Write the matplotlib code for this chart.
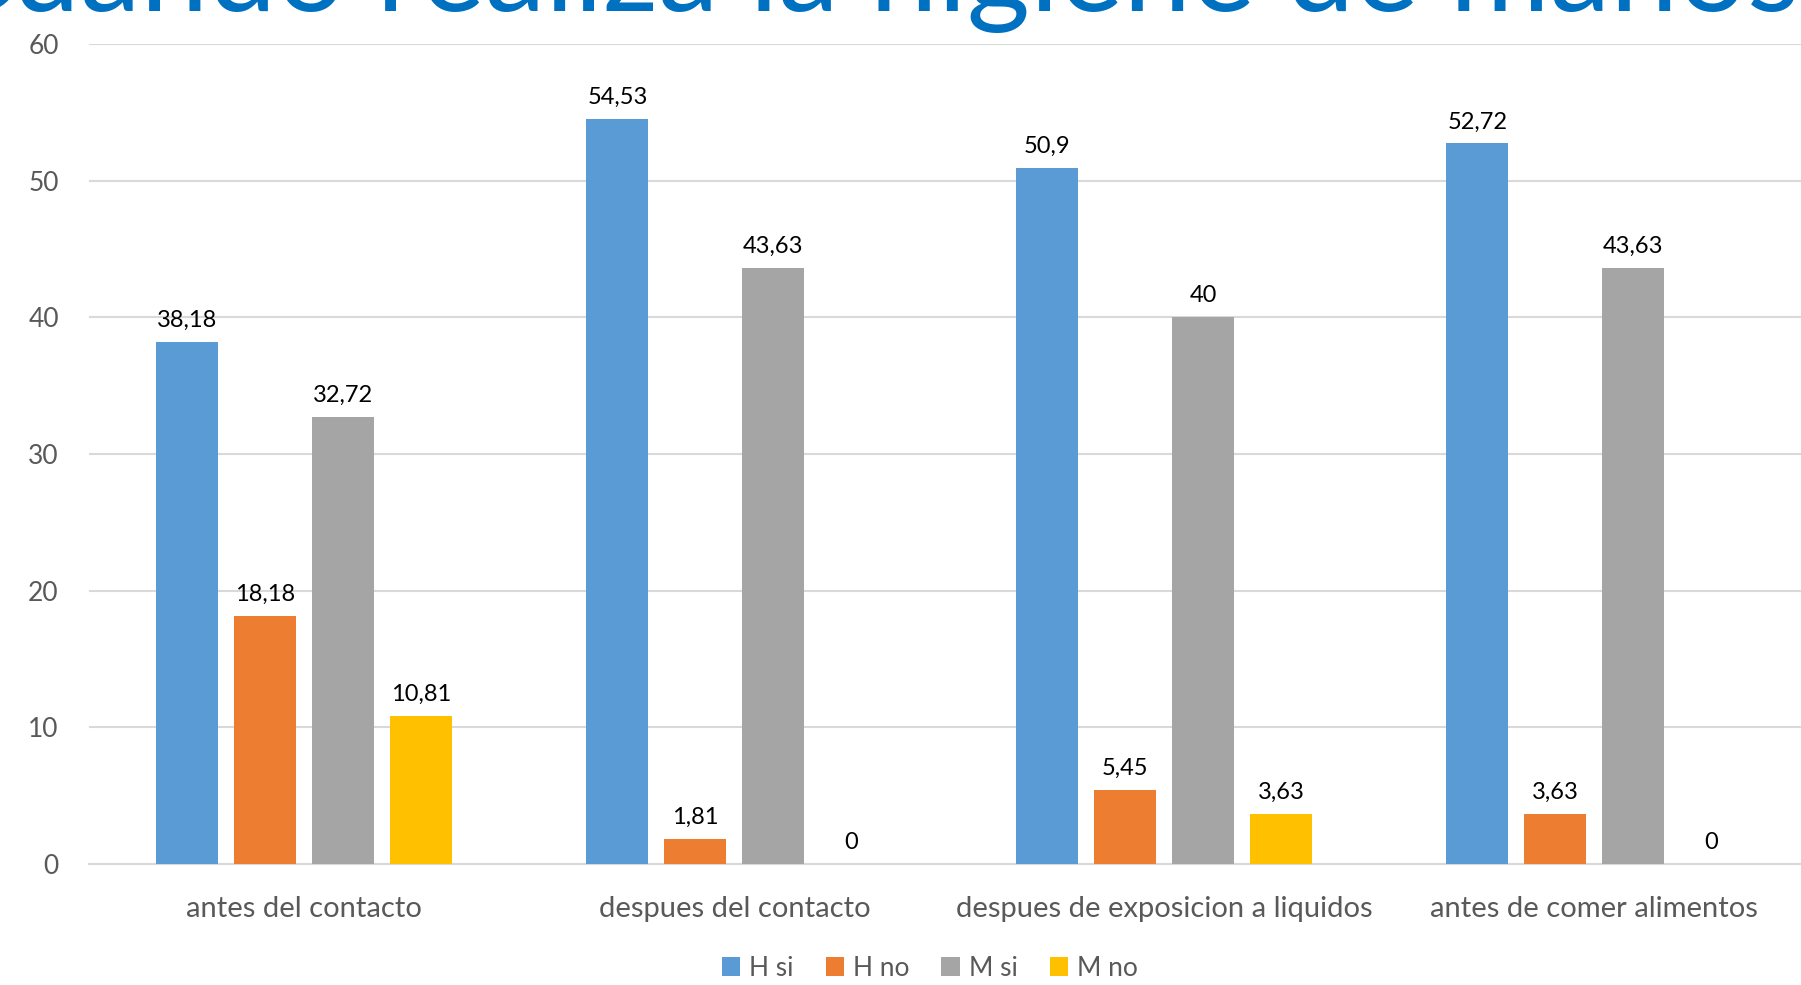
import matplotlib
matplotlib.use("Agg")
import matplotlib.pyplot as plt
import numpy as np

# datos
categorias = ["antes del contacto", "despues del contacto",
              "despues de exposicion a liquidos", "antes de comer alimentos"]
series = ["H si", "H no", "M si", "M no"]
h_si = [38.18, 54.53, 50.9, 52.72]
h_no = [18.18, 1.81, 5.45, 3.63]
m_si = [32.72, 43.63, 40, 43.63]
m_no = [10.81, 0, 3.63, 0]
etiquetas_y = [0, 10, 20, 30, 40, 50, 60]

colores = ["#5B9BD5", "#ED7D31", "#A5A5A5", "#FFC000"]
gris_texto = "#595959"

plt.rcParams["font.family"] = ["Lato", "DejaVu Sans"]

W, H = 1801, 985
fig = plt.figure(figsize=(W / 100, H / 100), dpi=100)
ax = fig.add_axes([89.4 / W, (H - 864) / H, 1720 / W, 820 / H])

x = np.arange(len(categorias))
ancho = 0.144
paso = 0.1814
valores = [h_si, h_no, m_si, m_no]
for i, (nombre, vals) in enumerate(zip(series, valores)):
    pos = x + (i - 1.5) * paso
    barras = ax.bar(pos, vals, width=ancho, color=colores[i], label=nombre, zorder=3)
    for b, v in zip(barras, vals):
        texto = f"{v:g}".replace(".", ",")
        ax.annotate(texto, (b.get_x() + b.get_width() / 2, v),
                    xytext=(0, 8), textcoords="offset points",
                    ha="center", va="bottom", fontsize=17, color="black")

ax.set_xlim(-0.5, len(categorias) - 0.5)
ax.set_ylim(0, 60)
ax.set_yticks(etiquetas_y)
ax.set_xticks(x)
ax.set_xticklabels(categorias)
ax.tick_params(axis="y", length=0, pad=22, labelsize=19, labelcolor=gris_texto)
ax.tick_params(axis="x", length=0, pad=23, labelsize=21, labelcolor=gris_texto)
ax.grid(axis="y", color="#D9D9D9", linewidth=1.5, zorder=0)
for lado in ["top", "right", "left"]:
    ax.spines[lado].set_visible(False)
ax.spines["bottom"].set_color("#D9D9D9")
ax.spines["bottom"].set_linewidth(1.5)

leg = fig.legend(loc="center", bbox_to_anchor=(930 / W, (H - 968) / H),
                 ncol=4, frameon=False, fontsize=19, handlelength=0.7,
                 handleheight=0.7, handletextpad=0.35, columnspacing=1.2)
for t in leg.get_texts():
    t.set_color(gris_texto)

# titulo cortado en la parte superior
titulo = "Cuando realiza la higiene de manos"
tam = 87.5
renderer = fig.canvas.get_renderer()
tmp = fig.text(0, 0, "Cuando ", fontsize=tam)
w_pref = tmp.get_window_extent(renderer).width
tmp.remove()
fig.text((377 - w_pref) / W, (H - 11) / H, titulo, fontsize=tam,
         color="#0070C0", ha="left", va="baseline")

fig.savefig("out.png", dpi=100)
